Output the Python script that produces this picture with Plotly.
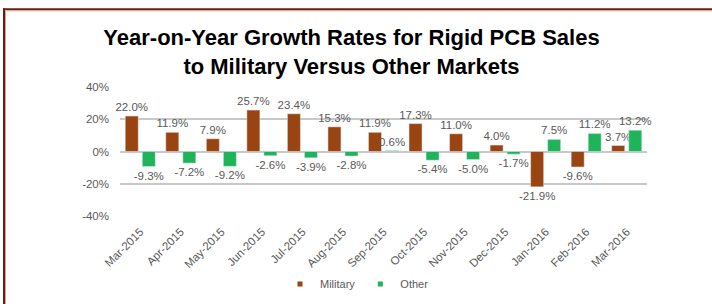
import plotly.graph_objects as go

months = ["Mar-2015", "Apr-2015", "May-2015", "Jun-2015", "Jul-2015", "Aug-2015",
          "Sep-2015", "Oct-2015", "Nov-2015", "Dec-2015", "Jan-2016", "Feb-2016", "Mar-2016"]
military = [22.0, 11.9, 7.9, 25.7, 23.4, 15.3, 11.9, 17.3, 11.0, 4.0, -21.9, -9.6, 3.7]
other = [-9.3, -7.2, -9.2, -2.6, -3.9, -2.8, 0.6, -5.4, -5.0, -1.7, 7.5, 11.2, 13.2]
y_ticks = [-40, -20, 0, 20, 40]
y_tick_text = ["-40%", "-20%", "0%", "20%", "40%"]

W, H = 712, 304
L, R, T, B = 120, 65, 87, 88
pw, ph = W - L - R, H - T - B

BROWN = "#9a4412"
GREEN = "#1fb35a"
GREY = "#595959"
FAM = "Liberation Sans, Arial, sans-serif"
LBL = dict(family=FAM, size=11.5, color=GREY)

fig = go.Figure()
fig.add_trace(go.Bar(x=months, y=military, name="Military", marker_color=BROWN,
                     texttemplate="%{y:.1f}%", textposition="outside", showlegend=False,
                     textfont=LBL, cliponaxis=False, constraintext="none"))
fig.add_trace(go.Bar(x=months, y=other, name="Other", marker_color=GREEN,
                     texttemplate="%{y:.1f}%", textposition="outside", showlegend=False,
                     textfont=LBL, cliponaxis=False, constraintext="none"))
# legend entries with small square keys
fig.add_trace(go.Scatter(x=[None], y=[None], mode="markers", name="Military",
                         marker=dict(symbol="square", size=5, color=BROWN)))
fig.add_trace(go.Scatter(x=[None], y=[None], mode="markers", name="Other",
                         marker=dict(symbol="square", size=5, color=GREEN)))

def px2x(px):
    return (px - L) / pw

def py2y(py):
    return (H - B - py) / ph

shapes = [
    dict(type="line", xref="paper", yref="paper", x0=px2x(3), x1=px2x(W + 2),
         y0=py2y(9.3), y1=py2y(9.3), line=dict(color="#6a200c", width=2)),
    dict(type="line", xref="paper", yref="paper", x0=px2x(4), x1=px2x(4),
         y0=py2y(8.3), y1=py2y(H + 2), line=dict(color="#6a200c", width=2)),
    dict(type="line", xref="paper", yref="paper", x0=px2x(5.5), x1=px2x(W + 2),
         y0=py2y(10.8), y1=py2y(10.8), line=dict(color="#d9a58f", width=1)),
    dict(type="line", xref="paper", yref="paper", x0=px2x(5.5), x1=px2x(5.5),
         y0=py2y(10.8), y1=py2y(H + 2), line=dict(color="#d9a58f", width=1)),
]

fig.update_layout(
    width=W, height=H,
    margin=dict(l=L, r=R, t=T, b=B, autoexpand=False),
    paper_bgcolor="white", plot_bgcolor="white",
    barmode="group", bargap=0.16, bargroupgap=0.235,
    title=dict(text="Year-on-Year Growth Rates for Rigid PCB Sales<br>to Military Versus Other Markets",
               font=dict(family="Liberation Sans, Arial, sans-serif",
                         size=22, color="black", weight="bold"),
               x=351.5 / W, xanchor="center", xref="container",
               y=1 - 45 / H, yanchor="top", yref="container"),
    showlegend=True,
    legend=dict(orientation="h", x=357 / W, xanchor="center", xref="container",
                y=(H - 284) / H, yanchor="middle", yref="container",
                font=dict(family=FAM, size=11, color=GREY),
                itemwidth=30, tracegroupgap=0, bgcolor="rgba(0,0,0,0)"),
    shapes=shapes,
    hovermode=False,
)
fig.update_xaxes(type="category", tickangle=-45, showgrid=False, showline=False,
                 ticks="", ticklabelstandoff=6, automargin=False,
                 tickfont=dict(family=FAM, size=11.5, color=GREY))
fig.update_yaxes(range=[-40, 40], tickvals=y_ticks, ticktext=y_tick_text, showgrid=True,
                 gridcolor="#c8c8c8", gridwidth=1.5, zeroline=True, zerolinecolor="#c8c8c8",
                 zerolinewidth=1.5, showline=False, ticks="", ticklabelstandoff=10,
                 automargin=False,
                 tickfont=dict(family=FAM, size=11.5, color=GREY))

fig.write_html("out.html", config={"displayModeBar": False},
               post_script="document.body.style.margin='0px';")
